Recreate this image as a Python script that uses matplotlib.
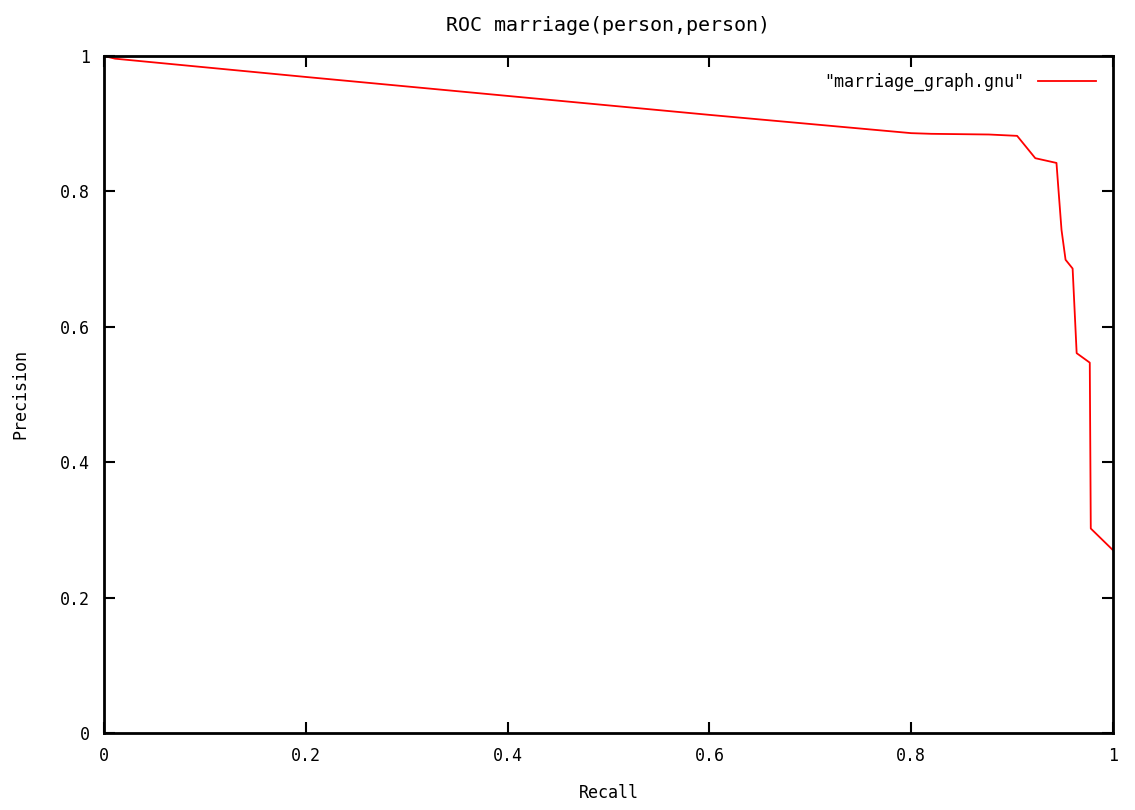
import matplotlib
matplotlib.use("Agg")
import matplotlib.pyplot as plt

recall = [0.0, 0.011, 0.2, 0.4, 0.6, 0.8, 0.82, 0.877, 0.905, 0.923, 0.944,
          0.946, 0.949, 0.953, 0.960, 0.964, 0.977, 0.978, 1.0]
precision = [1.0, 0.996, 0.969, 0.941, 0.913, 0.886, 0.885, 0.884, 0.882,
             0.849, 0.842, 0.802, 0.743, 0.699, 0.686, 0.561, 0.547, 0.302, 0.270]

ticks = [0, 0.2, 0.4, 0.6, 0.8, 1]
tick_labels = ["0", "0.2", "0.4", "0.6", "0.8", "1"]

plt.rcParams['font.family'] = ['DejaVu Sans Mono']
plt.rcParams['font.size'] = 12

fig = plt.figure(figsize=(11.35, 8.1), dpi=100)
ax = fig.add_axes([0.0916, 0.0951, 0.8890, 0.8358])

ax.plot(recall, precision, color='red', lw=1.3, label='"marriage_graph.gnu"')

ax.set_xlim(0, 1)
ax.set_ylim(0, 1)
ax.set_xticks(ticks)
ax.set_xticklabels(tick_labels)
ax.set_yticks(ticks)
ax.set_yticklabels(tick_labels)
ax.tick_params(direction='in', length=8, width=1.5, top=True, right=True, pad=10)
for s in ax.spines.values():
    s.set_linewidth(2)

ax.set_xlabel("Recall", labelpad=14)
ax.set_ylabel("Precision", labelpad=22)
ax.set_title("ROC marriage(person,person)", pad=18)

ax.legend(loc='upper right', frameon=False, markerfirst=False, handlelength=3.5,
          borderaxespad=0.6)

fig.savefig("out.png", dpi=100)
